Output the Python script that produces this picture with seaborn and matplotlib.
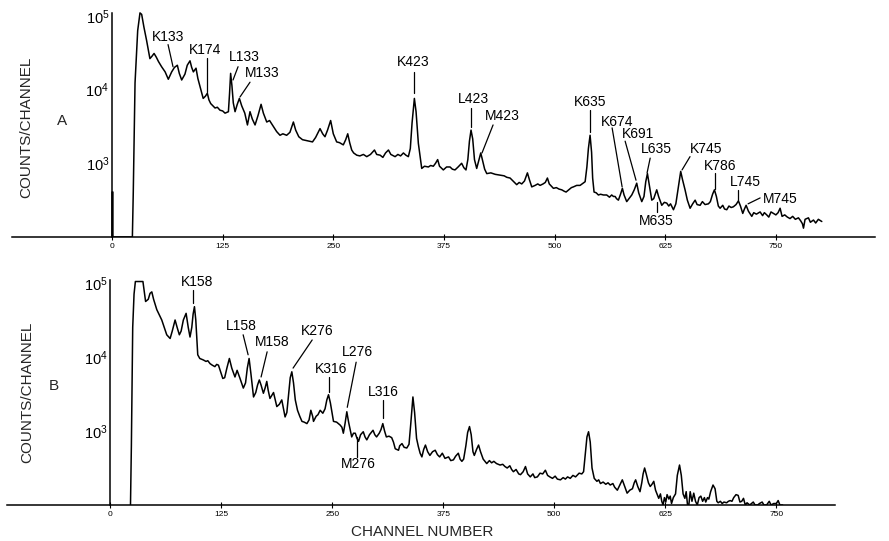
import numpy as np
import pandas as pd
import matplotlib
matplotlib.use("Agg")
import matplotlib.pyplot as plt
import seaborn as sns
from matplotlib.ticker import NullLocator, FixedLocator

# ---------------- data (channel, log10 counts) ----------------
a_channels = [0, 0, 1, 1,
    23, 24, 26, 29, 31.6, 33.5, 36, 39, 42.8, 45, 47.5, 50, 52.5, 56, 60, 63.6, 67.4, 70.5, 73.8, 76, 78.7,
    82.4, 85, 88.1, 90, 91.9, 94.9, 97, 99.4, 103, 105.5, 107.7, 109.5, 111.5, 116.4, 119, 122, 125, 127.7,
    131.5, 132.8, 134, 135.5, 137, 139, 141.5, 143.9, 146.5, 150, 153, 155.9, 158.5, 161.6, 165, 168.4, 171,
    174.8, 178, 182.3, 186, 189.8, 193, 197.3, 201, 204.9, 207.5, 211, 215.2, 219, 222.7, 226.5, 230, 235,
    238, 240.6, 243.5, 247, 250, 253.8, 257, 261.3, 264, 266.3, 268.5, 270.8, 273, 276.5, 280, 284, 287.8,
    292, 296.5, 299, 302.9, 306, 309, 312.3, 315, 319.8, 323, 326, 329.2, 332, 334.8, 337, 339, 341.6, 343.5,
    346.1, 349.9, 353, 357.4, 360, 363, 365.5, 367.9, 370, 374.3, 378, 381.9, 384.5, 387.5, 391, 395, 397.5,
    399.9, 402, 403.8, 405.6, 407.5, 409.5, 412, 414, 416.6, 419, 421, 423.4, 428, 433, 438.4, 443, 446,
    449.7, 453, 457.2, 460, 462.9, 466, 469.3, 471.5, 474.2, 478, 481, 483.6, 487, 489.5, 491.9, 494, 498.7,
    502, 505, 508.1, 511, 513, 516, 519, 521.3, 525, 528.8, 531, 534.5, 536.5, 538.2, 540.1, 541.8, 543,
    544.6, 547, 549.5, 552, 555.2, 558.9, 562, 564.5, 566.5, 568.4, 570, 572.1, 574.5, 576.6, 578.5, 581.5,
    584, 587.2, 590, 592.8, 595, 598.5, 601, 603, 604.9, 606.8, 609.8, 612, 615.4, 617.5, 621.1, 624, 626.7,
    629, 631, 634.3, 637, 639.5, 642.5, 644.5, 647.4, 650, 653.1, 656, 658.8, 661, 664.4, 667, 670, 673.8,
    676, 678.5, 680.6, 682.8, 685, 687, 690, 692, 694.5, 697, 699.5, 702, 705, 707.7, 710, 712.6, 714.5,
    716.4, 719, 722.8, 725, 728, 732.2, 735, 737, 739.7, 742, 744.5, 747.2, 750, 752.5, 754.8, 757, 760,
    763, 766, 769, 772, 775.5, 778, 780, 781.2, 783, 786.8, 789, 792.5, 795, 798, 801.9]
a_log10_counts = [2.0, 2.61, 2.61, 2.0,
    2.0, 2.6, 4.09, 4.8, 5.04, 5.02, 4.85, 4.67, 4.42, 4.45, 4.49, 4.44, 4.38, 4.31, 4.24, 4.14, 4.24, 4.30,
    4.33, 4.22, 4.13, 4.21, 4.33, 4.39, 4.30, 4.24, 4.29, 4.15, 4.04, 3.88, 3.91, 3.95, 3.86, 3.81, 3.75,
    3.76, 3.72, 3.71, 3.68, 3.70, 3.95, 4.22, 4.05, 3.82, 3.70, 3.80, 3.88, 3.78, 3.68, 3.52, 3.70, 3.60,
    3.52, 3.65, 3.80, 3.68, 3.56, 3.58, 3.50, 3.43, 3.38, 3.40, 3.38, 3.42, 3.56, 3.45, 3.36, 3.32, 3.31,
    3.30, 3.29, 3.35, 3.47, 3.40, 3.36, 3.45, 3.58, 3.40, 3.29, 3.28, 3.25, 3.32, 3.40, 3.28, 3.18, 3.14,
    3.11, 3.10, 3.12, 3.09, 3.12, 3.18, 3.12, 3.11, 3.08, 3.14, 3.18, 3.12, 3.09, 3.12, 3.10, 3.14, 3.11,
    3.09, 3.20, 3.55, 3.88, 3.70, 3.27, 2.93, 2.96, 2.95, 2.97, 2.96, 3.00, 3.05, 2.96, 2.91, 2.95, 2.95,
    2.92, 2.91, 2.95, 3.00, 2.94, 2.91, 3.05, 3.30, 3.45, 3.33, 3.05, 2.93, 3.02, 3.14, 3.02, 2.92, 2.86,
    2.87, 2.85, 2.84, 2.83, 2.81, 2.80, 2.76, 2.71, 2.74, 2.72, 2.76, 2.87, 2.78, 2.68, 2.70, 2.72, 2.70,
    2.72, 2.74, 2.80, 2.72, 2.66, 2.67, 2.65, 2.64, 2.62, 2.61, 2.64, 2.67, 2.68, 2.70, 2.70, 2.72, 2.75,
    2.95, 3.20, 3.38, 3.15, 2.80, 2.61, 2.60, 2.57, 2.58, 2.57, 2.57, 2.54, 2.57, 2.55, 2.55, 2.52, 2.50,
    2.58, 2.66, 2.57, 2.48, 2.52, 2.57, 2.64, 2.73, 2.60, 2.48, 2.55, 2.75, 2.86, 2.72, 2.50, 2.52, 2.64,
    2.55, 2.43, 2.47, 2.46, 2.42, 2.45, 2.37, 2.45, 2.65, 2.89, 2.78, 2.64, 2.50, 2.39, 2.45, 2.50, 2.44,
    2.43, 2.48, 2.44, 2.45, 2.48, 2.58, 2.64, 2.55, 2.42, 2.39, 2.43, 2.38, 2.37, 2.42, 2.40, 2.41, 2.44,
    2.49, 2.42, 2.32, 2.38, 2.43, 2.35, 2.28, 2.33, 2.31, 2.34, 2.29, 2.33, 2.30, 2.27, 2.34, 2.32, 2.30,
    2.33, 2.39, 2.28, 2.30, 2.27, 2.25, 2.28, 2.24, 2.26, 2.22, 2.18, 2.12, 2.24, 2.26, 2.20, 2.23, 2.19,
    2.24, 2.21]

b_channels = [23, 24, 25.5, 27, 28.5, 37, 38.5, 40, 43, 45, 47, 49, 52.6, 55, 58.2, 61, 63.8, 67.6, 70, 73.2,
    75.5, 78, 80, 82.5, 85.6, 88, 90, 92, 93.5, 95, 96.5, 98.7, 101, 105, 108, 110, 112.6, 115, 118, 120,
    122, 124.5, 126.9, 129, 131.5, 134.3, 137, 140.6, 143, 146, 150, 152.5, 154.5, 156.5, 158.5, 161.5, 164,
    166, 168, 170, 172.6, 174.5, 176.4, 178, 180, 182, 184, 186, 187.7, 190.5, 193.3, 195.5, 197, 199, 201,
    202.8, 204.6, 206.5, 208.5, 211, 213.5, 216, 218.5, 221.6, 224, 226, 228, 229, 232, 234, 236.5, 239.5,
    242, 244, 245.9, 248, 251.5, 255, 259, 261, 262.6, 264.5, 266.5, 268.5, 272, 274, 276, 278, 279.7, 282,
    285, 287, 289, 292, 294, 296, 298, 300, 303, 305, 307, 309, 311, 314, 317, 319, 321, 324.7, 326, 328.6,
    331, 334, 336.5, 338.5, 340.9, 342.8, 345, 347, 349, 351, 353, 355, 357.5, 360, 363, 366, 368.5, 371,
    374, 377, 381, 383.5, 386.5, 389, 392, 394, 396, 398, 400.5, 402.5, 404.6, 406.5, 408.5, 410, 412.5,
    414.8, 417, 420, 424, 427, 429.5, 432, 435, 439, 442, 444.5, 447, 450, 452, 454, 457, 460, 462, 465,
    467.6, 470, 473, 476, 478, 481, 484, 487, 490, 492.5, 495, 498, 501, 503.5, 507, 510, 512.5, 515, 518,
    521, 524, 528, 531, 533, 535, 536.8, 538.6, 540.5, 542.5, 545, 548, 550, 552, 555, 558, 560.5, 563, 566,
    568, 571, 573, 576.6, 579, 582, 585, 588, 590, 591.6, 594, 596.5, 598.5, 600, 601.7, 603.5, 606, 608,
    610, 612, 614, 617.6, 619.5, 621, 622.5, 624, 625.5, 627, 629, 630.5, 632, 634, 636.5, 638.5, 641, 643,
    645, 647, 648.5, 650, 651.5, 653, 655, 657, 659, 661, 663, 665, 667, 669, 670.5, 672.5, 674, 676, 678.7,
    681, 683, 684.5, 687, 689, 691, 694, 696, 698, 700, 702, 704.6, 707, 709, 711, 713, 715, 717, 720, 722,
    724, 726, 729, 731, 734, 736, 739, 742, 744, 747, 750, 752, 754, 757]
b_log10_counts = [2.0, 2.8, 4.4, 4.85, 5.02, 5.02, 4.88, 4.75, 4.78, 4.86, 4.88, 4.78, 4.64, 4.58, 4.50, 4.40,
    4.30, 4.25, 4.35, 4.50, 4.40, 4.30, 4.35, 4.50, 4.59, 4.40, 4.27, 4.40, 4.58, 4.68, 4.50, 4.03, 3.98,
    3.96, 3.94, 3.95, 3.91, 3.89, 3.87, 3.90, 3.89, 3.80, 3.71, 3.72, 3.85, 3.98, 3.85, 3.73, 3.82, 3.72,
    3.58, 3.65, 3.85, 3.98, 3.78, 3.46, 3.52, 3.62, 3.69, 3.62, 3.51, 3.58, 3.67, 3.55, 3.44, 3.48, 3.52,
    3.42, 3.33, 3.36, 3.42, 3.28, 3.19, 3.25, 3.50, 3.72, 3.80, 3.65, 3.42, 3.28, 3.20, 3.13, 3.12, 3.10,
    3.15, 3.28, 3.20, 3.13, 3.20, 3.22, 3.28, 3.24, 3.30, 3.42, 3.49, 3.38, 3.13, 3.12, 3.08, 3.05, 2.97,
    3.10, 3.26, 3.12, 2.92, 2.97, 2.97, 2.90, 2.86, 2.95, 2.99, 2.92, 2.88, 2.95, 2.98, 3.01, 2.95, 2.92,
    2.97, 3.02, 3.10, 3.00, 2.92, 2.93, 2.91, 2.85, 2.76, 2.74, 2.80, 2.83, 2.78, 2.77, 2.82, 3.10, 3.46,
    3.25, 2.90, 2.79, 2.70, 2.65, 2.75, 2.81, 2.72, 2.67, 2.72, 2.74, 2.68, 2.65, 2.70, 2.63, 2.65, 2.60,
    2.61, 2.66, 2.70, 2.62, 2.59, 2.62, 2.80, 2.98, 3.06, 2.95, 2.72, 2.67, 2.75, 2.81, 2.72, 2.62, 2.56,
    2.60, 2.57, 2.59, 2.56, 2.54, 2.55, 2.52, 2.50, 2.53, 2.48, 2.45, 2.48, 2.42, 2.41, 2.45, 2.52, 2.42,
    2.38, 2.42, 2.37, 2.38, 2.43, 2.42, 2.47, 2.40, 2.38, 2.36, 2.39, 2.35, 2.34, 2.37, 2.35, 2.38, 2.36,
    2.40, 2.38, 2.43, 2.42, 2.45, 2.70, 2.92, 2.99, 2.85, 2.50, 2.36, 2.32, 2.34, 2.29, 2.31, 2.28, 2.30,
    2.27, 2.29, 2.24, 2.20, 2.25, 2.34, 2.26, 2.16, 2.20, 2.22, 2.30, 2.34, 2.25, 2.18, 2.30, 2.42, 2.50,
    2.42, 2.30, 2.25, 2.28, 2.32, 2.20, 2.09, 2.15, 2.05, 2.0, 2.10, 2.04, 2.14, 2.08, 2.12, 2.02, 2.10,
    2.15, 2.40, 2.54, 2.40, 2.15, 2.09, 2.18, 2.0, 2.0, 2.18, 2.05, 2.16, 2.05, 2.0, 2.10, 2.12, 2.05, 2.10,
    2.04, 2.10, 2.08, 2.18, 2.27, 2.22, 2.05, 2.03, 2.05, 2.02, 2.04, 2.03, 2.05, 2.06, 2.05, 2.10, 2.14,
    2.13, 2.04, 2.05, 2.09, 2.0, 2.03, 2.0, 2.02, 2.04, 2.0, 2.0, 2.02, 2.04, 2.0, 2.0, 2.05, 2.0, 2.02,
    2.02, 2.06, 2.0, 2.0]

x_ticks = [0, 125, 250, 375, 500, 625, 750]
x_tick_labels = ["0", "125", "250", "375", "500", "625", "750"]
y_ticks = [1e3, 1e4, 1e5]
y_tick_labels = [r"$\mathregular{10^{3}}$", r"$\mathregular{10^{4}}$", r"$\mathregular{10^{5}}$"]

# peak labels: text, text position (channel, log10), leader line start/end (channel, log10)
a_peak_labels = ["K133", "K174", "L133", "M133", "K423", "L423", "M423", "K635", "K674", "K691",
                 "L635", "K745", "K786", "L745", "M745", "M635"]
a_label_pos = [(63.3, 4.71), (105, 4.54), (149, 4.44), (169.5, 4.23), (340, 4.37), (408, 3.87),
               (440.7, 3.64), (540, 3.83), (570.6, 3.56), (594, 3.40), (614.7, 3.19), (671, 3.19),
               (687, 2.96), (715, 2.75), (754.8, 2.52), (614.7, 2.22)]
a_leaders = [((63.3, 4.61), (68.9, 4.31)), ((107.3, 4.43), (107.3, 3.97)), ((142.4, 4.31), (136.7, 4.13)),
             ((155.9, 4.10), (144.6, 3.90)), ((341.2, 4.24), (341.2, 3.95)), ((405.6, 3.75), (405.6, 3.49)),
             ((430.5, 3.52), (418, 3.14)), ((540, 3.72), (540, 3.42)), ((565, 3.48), (576.3, 2.68)),
             ((579.7, 3.30), (592, 2.77)), ((608, 3.07), (604.5, 2.87)), ((653, 3.09), (644, 2.91)),
             ((681.4, 2.87), (681.4, 2.65)), ((707.3, 2.64), (707.3, 2.50)), ((732.2, 2.53), (718.6, 2.45)),
             ((615.8, 2.47), (615.8, 2.34))]

b_peak_labels = ["K158", "L158", "M158", "K276", "K316", "L276", "L316", "M276"]
b_label_pos = [(98, 5.01), (147.5, 4.42), (182.4, 4.20), (233, 4.35), (248.9, 3.84), (278, 4.07),
               (307.4, 3.53), (279.3, 2.55)]
b_leaders = [((93.5, 4.91), (93.5, 4.73)), ((149.8, 4.30), (155.4, 4.03)), ((176.8, 4.07), (170, 3.73)),
             ((227.5, 4.23), (206, 3.85)), ((246.6, 3.73), (246.6, 3.53)), ((277, 3.93), (267, 3.32)),
             ((307.4, 3.42), (307.4, 3.18)), ((278, 2.92), (278, 2.65))]

# ---------------- styling ----------------
sns.set_style("white")
plt.rcParams["font.family"] = ["Liberation Sans", "DejaVu Sans"]
plt.rcParams["mathtext.fontset"] = "custom"
plt.rcParams["mathtext.rm"] = "Liberation Sans"

W, H = 889, 541
fig = plt.figure(figsize=(W / 100, H / 100), dpi=100)
axA = fig.add_axes([12 / W, 1 - 237 / H, 863 / W, (237 - 4.8) / H])
axB = fig.add_axes([7 / W, 1 - 505 / H, 828 / W, (505 - 271.9) / H])

dfA = pd.DataFrame({"channel": a_channels, "counts": 10 ** np.array(a_log10_counts)})
dfB = pd.DataFrame({"channel": b_channels, "counts": 10 ** np.array(b_log10_counts)})


def draw(ax, df, xlim, labels, label_pos, leaders):
    sns.lineplot(data=df, x="channel", y="counts", ax=ax, color="black", linewidth=1.1,
                 estimator=None, sort=False)
    ax.set_yscale("log")
    ax.set_xlim(*xlim)
    ax.set_ylim(100, 10 ** 5.15)
    ax.set_xlabel("")
    ax.set_ylabel("")
    for s in ("top", "right"):
        ax.spines[s].set_visible(False)
    ax.spines["left"].set_position(("data", 0))
    ax.spines["left"].set_bounds(100, 10 ** 5.04)
    ax.spines["left"].set_linewidth(1.1)
    ax.spines["bottom"].set_linewidth(1.1)
    ax.spines["left"].set_color("black")
    ax.spines["bottom"].set_color("black")
    ax.yaxis.set_major_locator(FixedLocator(y_ticks))
    ax.yaxis.set_minor_locator(NullLocator())
    ax.set_yticklabels(y_tick_labels)
    ax.tick_params(axis="y", length=0, pad=2, labelsize=10.5, colors="black")
    ax.set_xticks(x_ticks)
    ax.set_xticklabels(x_tick_labels)
    ax.tick_params(axis="x", direction="inout", length=5, width=0.8, labelsize=6, pad=1.5,
                   bottom=True, colors="black")
    ax.patch.set_alpha(0)
    for lab, (cx, cl), ((x1, l1), (x2, l2)) in zip(labels, label_pos, leaders):
        ax.text(cx, 10 ** cl, lab, ha="center", va="center", fontsize=10, color="black")
        ax.plot([x1, x2], [10 ** l1, 10 ** l2], color="black", linewidth=0.9)


draw(axA, dfA, (-113, 862), a_peak_labels, a_label_pos, a_leaders)
draw(axB, dfB, (-116, 816), b_peak_labels, b_label_pos, b_leaders)

fig.text(26 / W, 1 - 127 / H, "COUNTS/CHANNEL", rotation=90, ha="center", va="center", fontsize=11)
fig.text(27 / W, 1 - 392 / H, "COUNTS/CHANNEL", rotation=90, ha="center", va="center", fontsize=11)
fig.text(62.5 / W, 1 - 121 / H, "A", ha="center", va="center", fontsize=11)
fig.text(54 / W, 1 - 386 / H, "B", ha="center", va="center", fontsize=11)
fig.text(422 / W, 1 - 532 / H, "CHANNEL NUMBER", ha="center", va="center", fontsize=11)

fig.savefig("out.png", dpi=100, facecolor="white")
